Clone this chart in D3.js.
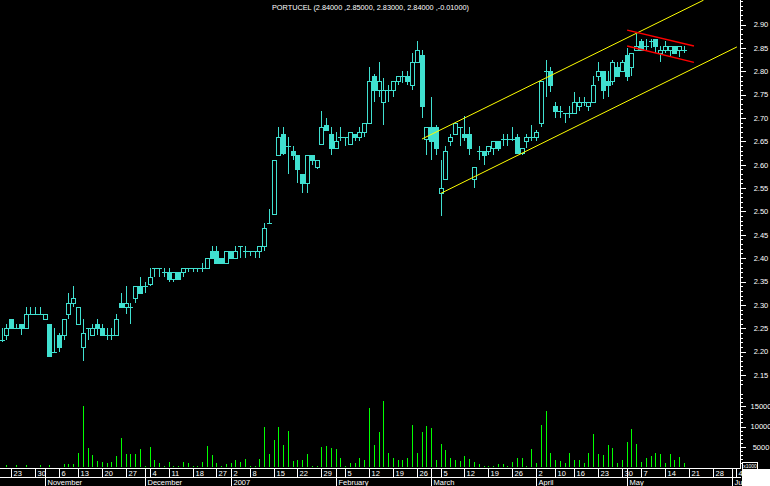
<!DOCTYPE html>
<html><head><meta charset="utf-8">
<script src="https://cdn.jsdelivr.net/npm/d3@7"></script>
<style>html,body{margin:0;padding:0;background:#000;overflow:hidden}text{font-family:"Liberation Sans",Arial,sans-serif}</style>
</head><body><svg id="c" width="770" height="486"></svg>
<script>
const title = "PORTUCEL (2.84000 ,2.85000, 2.83000, 2.84000 ,-0.01000)";
const dates = ["2006-10-19","2006-10-20","2006-10-23","2006-10-24","2006-10-25","2006-10-26","2006-10-27","2006-10-30","2006-10-31","2006-11-01","2006-11-02","2006-11-03","2006-11-06","2006-11-07","2006-11-08","2006-11-09","2006-11-13","2006-11-14","2006-11-15","2006-11-16","2006-11-17","2006-11-20","2006-11-21","2006-11-22","2006-11-23","2006-11-24","2006-11-27","2006-11-28","2006-11-29","2006-11-30","2006-12-01","2006-12-04","2006-12-05","2006-12-06","2006-12-07","2006-12-11","2006-12-12","2006-12-13","2006-12-14","2006-12-15","2006-12-18","2006-12-19","2006-12-20","2006-12-21","2006-12-22","2006-12-27","2006-12-28","2006-12-29","2007-01-02","2007-01-03","2007-01-04","2007-01-05","2007-01-08","2007-01-09","2007-01-10","2007-01-11","2007-01-12","2007-01-15","2007-01-16","2007-01-17","2007-01-18","2007-01-19","2007-01-22","2007-01-23","2007-01-24","2007-01-25","2007-01-26","2007-01-29","2007-01-30","2007-01-31","2007-02-01","2007-02-02","2007-02-05","2007-02-06","2007-02-07","2007-02-08","2007-02-09","2007-02-12","2007-02-13","2007-02-14","2007-02-15","2007-02-16","2007-02-19","2007-02-20","2007-02-21","2007-02-22","2007-02-23","2007-02-26","2007-02-27","2007-02-28","2007-03-01","2007-03-02","2007-03-05","2007-03-06","2007-03-07","2007-03-08","2007-03-09","2007-03-12","2007-03-13","2007-03-14","2007-03-15","2007-03-16","2007-03-19","2007-03-20","2007-03-21","2007-03-22","2007-03-23","2007-03-26","2007-03-27","2007-03-28","2007-03-29","2007-03-30","2007-04-02","2007-04-03","2007-04-04","2007-04-05","2007-04-10","2007-04-11","2007-04-12","2007-04-13","2007-04-16","2007-04-17","2007-04-18","2007-04-19","2007-04-20","2007-04-23","2007-04-24","2007-04-25","2007-04-26","2007-04-27","2007-04-30","2007-05-02","2007-05-03","2007-05-04","2007-05-07","2007-05-08","2007-05-09","2007-05-10","2007-05-11","2007-05-14","2007-05-15","2007-05-16","2007-05-17","2007-05-18"];
const futureDates = ["2007-05-21","2007-05-22","2007-05-23","2007-05-24","2007-05-25","2007-05-28","2007-05-29","2007-05-30","2007-05-31","2007-06-01","2007-06-04","2007-06-05","2007-06-06","2007-06-07","2007-06-08"];
const open = [2.225,2.235,2.27,2.25,2.26,2.25,2.28,2.28,2.28,2.27,2.26,2.20,2.235,2.235,2.28,2.305,2.26,2.21,2.25,2.235,2.26,2.25,2.235,2.235,2.235,2.305,2.295,2.295,2.315,2.34,2.34,2.345,2.38,2.38,2.37,2.37,2.355,2.37,2.37,2.38,2.38,2.38,2.38,2.38,2.415,2.415,2.40,2.39,2.415,2.40,2.425,2.415,2.415,2.415,2.415,2.425,2.475,2.495,2.62,2.665,2.64,2.63,2.62,2.58,2.56,2.62,2.595,2.645,2.685,2.665,2.635,2.66,2.66,2.645,2.665,2.66,2.67,2.69,2.79,2.76,2.735,2.76,2.76,2.78,2.79,2.79,2.77,2.82,2.835,2.655,2.68,2.68,2.54,2.57,2.65,2.665,2.68,2.665,2.665,2.57,2.63,2.63,2.63,2.635,2.65,2.655,2.655,2.655,2.66,2.625,2.65,2.66,2.66,2.69,2.80,2.80,2.725,2.715,2.71,2.71,2.71,2.725,2.735,2.725,2.735,2.79,2.80,2.78,2.78,2.81,2.80,2.835,2.81,2.845,2.865,2.855,2.865,2.87,2.84,2.845,2.845,2.855,2.845,2.845];
const high = [2.25,2.26,2.27,2.26,2.26,2.295,2.295,2.295,2.295,2.28,2.26,2.25,2.24,2.27,2.325,2.34,2.295,2.27,2.25,2.26,2.27,2.26,2.25,2.25,2.28,2.325,2.34,2.305,2.34,2.36,2.35,2.38,2.38,2.38,2.38,2.38,2.37,2.37,2.38,2.38,2.38,2.38,2.39,2.40,2.425,2.425,2.40,2.415,2.415,2.425,2.425,2.425,2.415,2.415,2.425,2.475,2.505,2.61,2.68,2.68,2.66,2.64,2.62,2.58,2.62,2.62,2.61,2.715,2.70,2.68,2.67,2.68,2.66,2.67,2.665,2.68,2.69,2.81,2.795,2.82,2.785,2.77,2.78,2.79,2.80,2.80,2.84,2.865,2.845,2.68,2.745,2.685,2.61,2.64,2.665,2.69,2.68,2.705,2.68,2.595,2.64,2.63,2.64,2.65,2.65,2.665,2.665,2.68,2.665,2.635,2.665,2.685,2.675,2.78,2.825,2.81,2.735,2.725,2.71,2.725,2.755,2.745,2.745,2.735,2.79,2.82,2.80,2.80,2.825,2.82,2.825,2.85,2.84,2.88,2.87,2.87,2.87,2.87,2.855,2.865,2.855,2.855,2.855,2.855];
const low = [2.22,2.225,2.25,2.25,2.235,2.25,2.28,2.28,2.28,2.27,2.19,2.20,2.20,2.225,2.27,2.295,2.26,2.18,2.225,2.235,2.235,2.235,2.225,2.225,2.235,2.295,2.28,2.26,2.305,2.325,2.325,2.34,2.36,2.36,2.36,2.35,2.35,2.355,2.36,2.37,2.37,2.37,2.37,2.38,2.40,2.39,2.39,2.39,2.40,2.40,2.40,2.40,2.405,2.40,2.40,2.415,2.475,2.495,2.62,2.62,2.58,2.61,2.56,2.54,2.54,2.60,2.59,2.645,2.675,2.62,2.635,2.65,2.64,2.645,2.65,2.65,2.66,2.69,2.735,2.745,2.685,2.735,2.745,2.77,2.775,2.77,2.76,2.82,2.70,2.62,2.61,2.62,2.49,2.57,2.64,2.665,2.64,2.65,2.62,2.55,2.61,2.60,2.62,2.62,2.63,2.64,2.64,2.65,2.625,2.62,2.635,2.65,2.65,2.68,2.745,2.755,2.70,2.70,2.69,2.70,2.71,2.715,2.725,2.715,2.735,2.78,2.74,2.745,2.77,2.79,2.80,2.78,2.79,2.845,2.845,2.845,2.85,2.84,2.82,2.84,2.83,2.84,2.83,2.84];
const close = [2.225,2.25,2.25,2.25,2.25,2.28,2.28,2.28,2.28,2.28,2.19,2.20,2.21,2.27,2.305,2.315,2.295,2.24,2.25,2.25,2.25,2.235,2.235,2.235,2.27,2.295,2.305,2.295,2.34,2.325,2.34,2.36,2.38,2.38,2.37,2.355,2.37,2.355,2.38,2.38,2.38,2.38,2.38,2.40,2.40,2.39,2.39,2.415,2.40,2.415,2.425,2.415,2.415,2.415,2.425,2.465,2.475,2.61,2.66,2.625,2.64,2.62,2.59,2.56,2.62,2.61,2.61,2.68,2.675,2.635,2.65,2.66,2.66,2.67,2.66,2.67,2.69,2.78,2.76,2.78,2.76,2.76,2.78,2.79,2.79,2.78,2.82,2.845,2.725,2.68,2.65,2.635,2.55,2.63,2.66,2.69,2.68,2.66,2.635,2.595,2.63,2.62,2.64,2.65,2.635,2.655,2.655,2.655,2.625,2.635,2.66,2.66,2.67,2.78,2.80,2.77,2.715,2.715,2.71,2.71,2.735,2.735,2.735,2.735,2.77,2.80,2.76,2.77,2.82,2.79,2.82,2.79,2.84,2.855,2.845,2.855,2.865,2.855,2.845,2.855,2.855,2.84,2.855,2.845];
const volume = [0,600,0,600,0,600,0,0,500,0,700,0,0,800,800,900,3600,15070,4830,3050,1660,1340,1170,1340,2800,7270,3290,3290,3290,4510,300,5000,1830,1100,300,1340,300,300,1340,1100,300,300,1340,5240,3050,1100,300,850,1100,1830,1340,2070,300,300,2070,9880,3290,6710,9880,5490,8900,1580,1830,1830,3290,300,300,5000,5240,4750,4510,2320,300,1100,1100,2320,1830,14500,5490,8660,16200,3560,2320,1830,1830,2320,10370,3600,8660,10120,9640,1830,5730,4270,2320,1830,1580,2800,2070,1340,850,400,400,400,850,850,400,1340,2320,2320,400,4510,1100,10370,13780,3530,1830,1580,1100,3530,1830,1830,1100,3530,8170,3290,3050,5490,4750,1100,1830,6220,9390,5730,1340,2320,2800,3530,3290,1100,3290,1830,2560,1100];
const weekTicks = ["2006-10-23","2006-10-30","2006-11-06","2006-11-13","2006-11-20","2006-11-27","2006-12-04","2006-12-11","2006-12-18","2006-12-27","2007-01-02","2007-01-08","2007-01-15","2007-01-22","2007-01-29","2007-02-05","2007-02-12","2007-02-19","2007-02-26","2007-03-05","2007-03-12","2007-03-19","2007-03-26","2007-04-02","2007-04-10","2007-04-16","2007-04-23","2007-04-30","2007-05-07","2007-05-14","2007-05-21","2007-05-28","2007-06-04"];
const monthTicks = ["2006-11-01","2006-12-01","2007-01-02","2007-02-01","2007-03-01","2007-04-02","2007-05-02","2007-06-01"];
const monthLabels = ["November","December","2007","February","March","April","May","June"];
const priceTicks = [2.15,2.20,2.25,2.30,2.35,2.40,2.45,2.50,2.55,2.60,2.65,2.70,2.75,2.80,2.85,2.90];
const volTicks = [5000,10000,15000];
const channelUpper = [["2007-02-27",2.655],["2007-05-24",2.952]];
const channelLower = [["2007-03-05",2.539],["2007-06-04",2.852]];
const flagUpper = [["2007-05-02",2.888],["2007-05-22",2.854]];
const flagLower = [["2007-05-02",2.854],["2007-05-22",2.819]];

const svg = d3.select("#c");
const W = 770, H = 486, AX = 740;
const allDates = dates.concat(futureDates);
const step = 4.771;
const x = d3.scalePoint().domain(allDates).range([2.16, 2.16 + (allDates.length - 1) * step]);
const y = d3.scaleLinear().domain([2.15, 2.90]).range([375, 24.5]);
const yv = d3.scaleLinear().domain([0, 15000]).range([467.5, 406]);
const CANDLE = "#40E0D0", VOL = "#00FF00";

svg.append("rect").attr("width", W).attr("height", H).attr("fill", "#000");
svg.append("defs").append("clipPath").attr("id", "plot").append("rect").attr("x", 0).attr("y", 0).attr("width", AX).attr("height", 467);
const plot = svg.append("g").attr("clip-path", "url(#plot)").attr("shape-rendering", "crispEdges");

// volume
const rows = dates.map((d, i) => ({d, o: open[i], h: high[i], l: low[i], c: close[i], v: volume[i]}));
plot.selectAll("line.vol").data(rows.filter(r => r.v > 0)).join("line")
  .attr("x1", r => Math.floor(x(r.d)) + 0.5).attr("x2", r => Math.floor(x(r.d)) + 0.5)
  .attr("y1", r => yv(r.v)).attr("y2", 467.5).attr("stroke", VOL).attr("stroke-width", 1);

// candles
const cg = plot.append("g");
rows.forEach(r => {
  const cx = Math.floor(x(r.d));
  const g = cg.append("g");
  g.append("line").attr("x1", cx + 0.5).attr("x2", cx + 0.5).attr("y1", y(r.h)).attr("y2", y(r.l)).attr("stroke", CANDLE);
  const top = Math.round(y(Math.max(r.o, r.c))), bot = Math.round(y(Math.min(r.o, r.c)));
  if (bot - top < 1) {
    g.append("line").attr("x1", cx - 2).attr("x2", cx + 3).attr("y1", top + 0.5).attr("y2", top + 0.5).attr("stroke", CANDLE);
  } else if (r.c > r.o) {
    g.append("rect").attr("x", cx - 1.5).attr("y", top + 0.5).attr("width", 4).attr("height", bot - top).attr("fill", "#000").attr("stroke", CANDLE);
  } else {
    g.append("rect").attr("x", cx - 2).attr("y", top).attr("width", 5).attr("height", bot - top + 1).attr("fill", CANDLE);
  }
});

// trend lines
const ln = d3.line().x(p => x(p[0])).y(p => y(p[1]));
[[channelUpper, "#FFFF00", 1], [channelLower, "#FFFF00", 1]].forEach(([pts, col, w]) => {
  svg.append("path").attr("clip-path", "url(#plot)").attr("d", ln(pts)).attr("fill", "none").attr("stroke", col).attr("stroke-width", w);
});
[flagUpper, flagLower].forEach(pts => {
  svg.append("path").attr("d", ln(pts)).attr("fill", "none").attr("stroke", "#FF0000").attr("stroke-width", 1.4);
});

// right axis
const ax = svg.append("g").attr("shape-rendering", "crispEdges");
ax.append("line").attr("x1", AX + 0.5).attr("x2", AX + 0.5).attr("y1", 0).attr("y2", 469).attr("stroke", "#fff");
const minorP = d3.range(213, 296).map(v => v / 100);
ax.selectAll("line.mp").data(minorP).join("line").attr("x1", AX).attr("x2", AX + 3)
  .attr("y1", d => Math.round(y(d)) + 0.5).attr("y2", d => Math.round(y(d)) + 0.5).attr("stroke", "#fff");
ax.selectAll("line.Mp").data(priceTicks).join("line").attr("x1", AX).attr("x2", AX + 6)
  .attr("y1", d => Math.round(y(d)) + 0.5).attr("y2", d => Math.round(y(d)) + 0.5).attr("stroke", "#fff");
const minorV = d3.range(1000, 19000, 1000);
ax.selectAll("line.mv").data(minorV).join("line").attr("x1", AX).attr("x2", AX + 3)
  .attr("y1", d => Math.round(yv(d)) + 0.5).attr("y2", d => Math.round(yv(d)) + 0.5).attr("stroke", "#fff");
ax.selectAll("line.Mv").data(volTicks).join("line").attr("x1", AX).attr("x2", AX + 6)
  .attr("y1", d => Math.round(yv(d)) + 0.5).attr("y2", d => Math.round(yv(d)) + 0.5).attr("stroke", "#fff");
svg.selectAll("text.pl").data(priceTicks).join("text").attr("x", 761).attr("y", d => y(d) + 2.8)
  .attr("text-anchor", "middle").attr("fill", "#fff").attr("font-size", 7.5).text(d => d.toFixed(2));
svg.selectAll("text.vl").data(volTicks).join("text").attr("x", 761).attr("y", d => yv(d) + 2.8)
  .attr("text-anchor", "middle").attr("fill", "#fff").attr("font-size", 7.5).text(d => d);

// x axis
const xa = svg.append("g").attr("shape-rendering", "crispEdges");
xa.append("line").attr("x1", 0).attr("x2", AX + 1).attr("y1", 468.5).attr("y2", 468.5).attr("stroke", "#fff");
xa.append("line").attr("x1", 0).attr("x2", AX + 1).attr("y1", 477.5).attr("y2", 477.5).attr("stroke", "#fff");
weekTicks.forEach(d => {
  const px = Math.floor(x(d)) + 0.5;
  xa.append("line").attr("x1", px).attr("x2", px).attr("y1", 468).attr("y2", 477).attr("stroke", "#fff");
  svg.append("text").attr("x", px + 2).attr("y", 476).attr("fill", "#fff").attr("font-size", 7.5).text(+d.slice(8));
});
monthTicks.forEach((d, i) => {
  const px = Math.floor(x(d)) + 0.5;
  xa.append("line").attr("x1", px).attr("x2", px).attr("y1", 468).attr("y2", 486).attr("stroke", "#fff");
  svg.append("text").attr("x", px + 2).attr("y", 485).attr("fill", "#fff").attr("font-size", 7.5).text(monthLabels[i]);
});
// bottom-right corner block and unit box
svg.append("rect").attr("x", 742).attr("y", 469).attr("width", 28).attr("height", 17).attr("fill", "#fff");
svg.append("rect").attr("x", 742.5).attr("y", 462.5).attr("width", 15).attr("height", 7).attr("fill", "#000").attr("stroke", "#fff").attr("shape-rendering", "crispEdges");
svg.append("text").attr("x", 750).attr("y", 468).attr("text-anchor", "middle").attr("fill", "#fff").attr("font-size", 5).text("x1000");

// title
svg.append("text").attr("x", 272).attr("y", 10).attr("fill", "#fff").attr("font-size", 8)
  .attr("textLength", 197).attr("lengthAdjust", "spacingAndGlyphs").text(title);
</script></body></html>
